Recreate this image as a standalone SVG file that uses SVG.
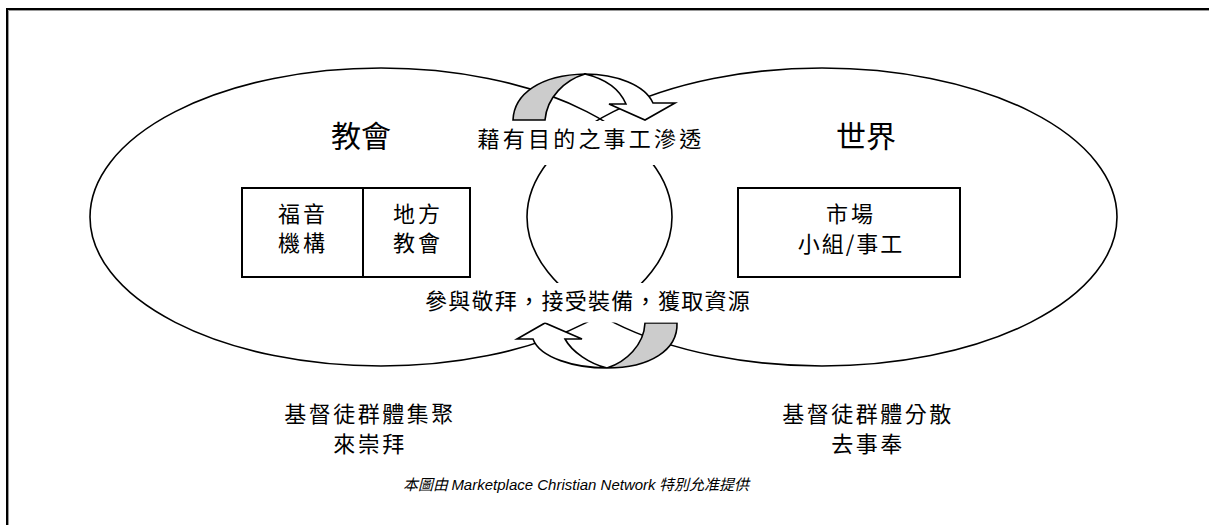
<svg xmlns="http://www.w3.org/2000/svg" width="1209" height="525" viewBox="0 0 1209 525">
<style>
.t{font-family:"Noto Sans CJK TC","Noto Sans CJK SC",sans-serif;fill:#000;text-anchor:middle}
.ell{fill:none;stroke:#000;stroke-width:1.6}
.box{fill:#fff;stroke:#000;stroke-width:2}
.arr{stroke:#000;stroke-width:1.6;stroke-linejoin:miter}
</style>
<rect x="0" y="0" width="1209" height="525" fill="#fff"/>
<g id="frame">
<path d="M8.5,525 V10.5 H1209" fill="none" stroke="#999" stroke-width="1"/>
<path d="M7,525 V9 H1209" fill="none" stroke="#000" stroke-width="2"/>
</g>
<g id="church-ellipse"><ellipse class="ell" cx="381" cy="217" rx="291" ry="149"/></g>
<g id="world-ellipse"><ellipse class="ell" cx="822" cy="217" rx="295" ry="149"/></g>
<g id="connectors">
<g id="top-arrow">
<path class="arr" fill="#cccccc" d="M513,120 C514,94 540,75 585,74 C565,80 547,97 545,120 Z"/>
<path class="arr" fill="#fff" d="M585,74 C616,74 645,85 653,103 L675,103 L645,120 L609,104 L626,104 C620,90 606,79 585,74 Z"/>
</g>
<g id="bottom-arrow">
<path class="arr" fill="#cccccc" d="M645,323 L677,323 C678,350 650,368 607,368 C626,362 644,345 645,323 Z"/>
<path class="arr" fill="#fff" d="M607,368 C575,368 540,358 533,339 L517,339 L545,323 L582,339 L565,339 C572,352 590,364 607,368 Z"/>
</g>
</g>
<rect x="470" y="121" width="245" height="44" fill="#fff"/>
<rect x="415" y="283" width="345" height="39.5" fill="#fff"/>
<g id="label-penetrate"><text class="t" x="591" y="147" font-size="22" letter-spacing="3.2">藉有目的之事工滲透</text></g>
<g id="label-worship"><text class="t" x="588" y="309" font-size="22" letter-spacing="1.3">參與敬拜，接受裝備，獲取資源</text></g>
<g id="title-church"><text class="t" x="361" y="147" font-size="30">教會</text></g>
<g id="title-world"><text class="t" x="866" y="147" font-size="30">世界</text></g>
<g id="box-gospel">
<rect class="box" x="242" y="188" width="121" height="89"/>
<text class="t" x="303" y="222" font-size="22" letter-spacing="3">福音</text>
<text class="t" x="303" y="251" font-size="22" letter-spacing="3">機構</text>
</g>
<g id="box-local">
<rect class="box" x="363" y="188" width="107" height="89"/>
<text class="t" x="418" y="222" font-size="22" letter-spacing="3">地方</text>
<text class="t" x="418" y="251" font-size="22" letter-spacing="3">教會</text>
</g>
<g id="box-market">
<rect class="box" x="738" y="188" width="222" height="89"/>
<text class="t" x="851" y="222" font-size="22" letter-spacing="3">市場</text>
<text class="t" x="851" y="252" font-size="22" letter-spacing="2">小組/事工</text>
</g>
<g id="label-gather">
<text class="t" x="370" y="422" font-size="22" letter-spacing="2.5">基督徒群體集聚</text>
<text class="t" x="370" y="452" font-size="22" letter-spacing="2.5">來崇拜</text>
</g>
<g id="label-scatter">
<text class="t" x="868" y="422" font-size="22" letter-spacing="2.5">基督徒群體分散</text>
<text class="t" x="868" y="452" font-size="22" letter-spacing="2.5">去事奉</text>
</g>
<g id="footer">
<text class="t" x="576" y="490" font-size="15" font-style="italic"><tspan font-family="'Noto Sans CJK TC',sans-serif">本圖由 </tspan><tspan font-family="'Liberation Sans',Arial,sans-serif">Marketplace Christian Network</tspan><tspan font-family="'Noto Sans CJK TC',sans-serif"> 特別允准提供</tspan></text>
</g>
</svg>
